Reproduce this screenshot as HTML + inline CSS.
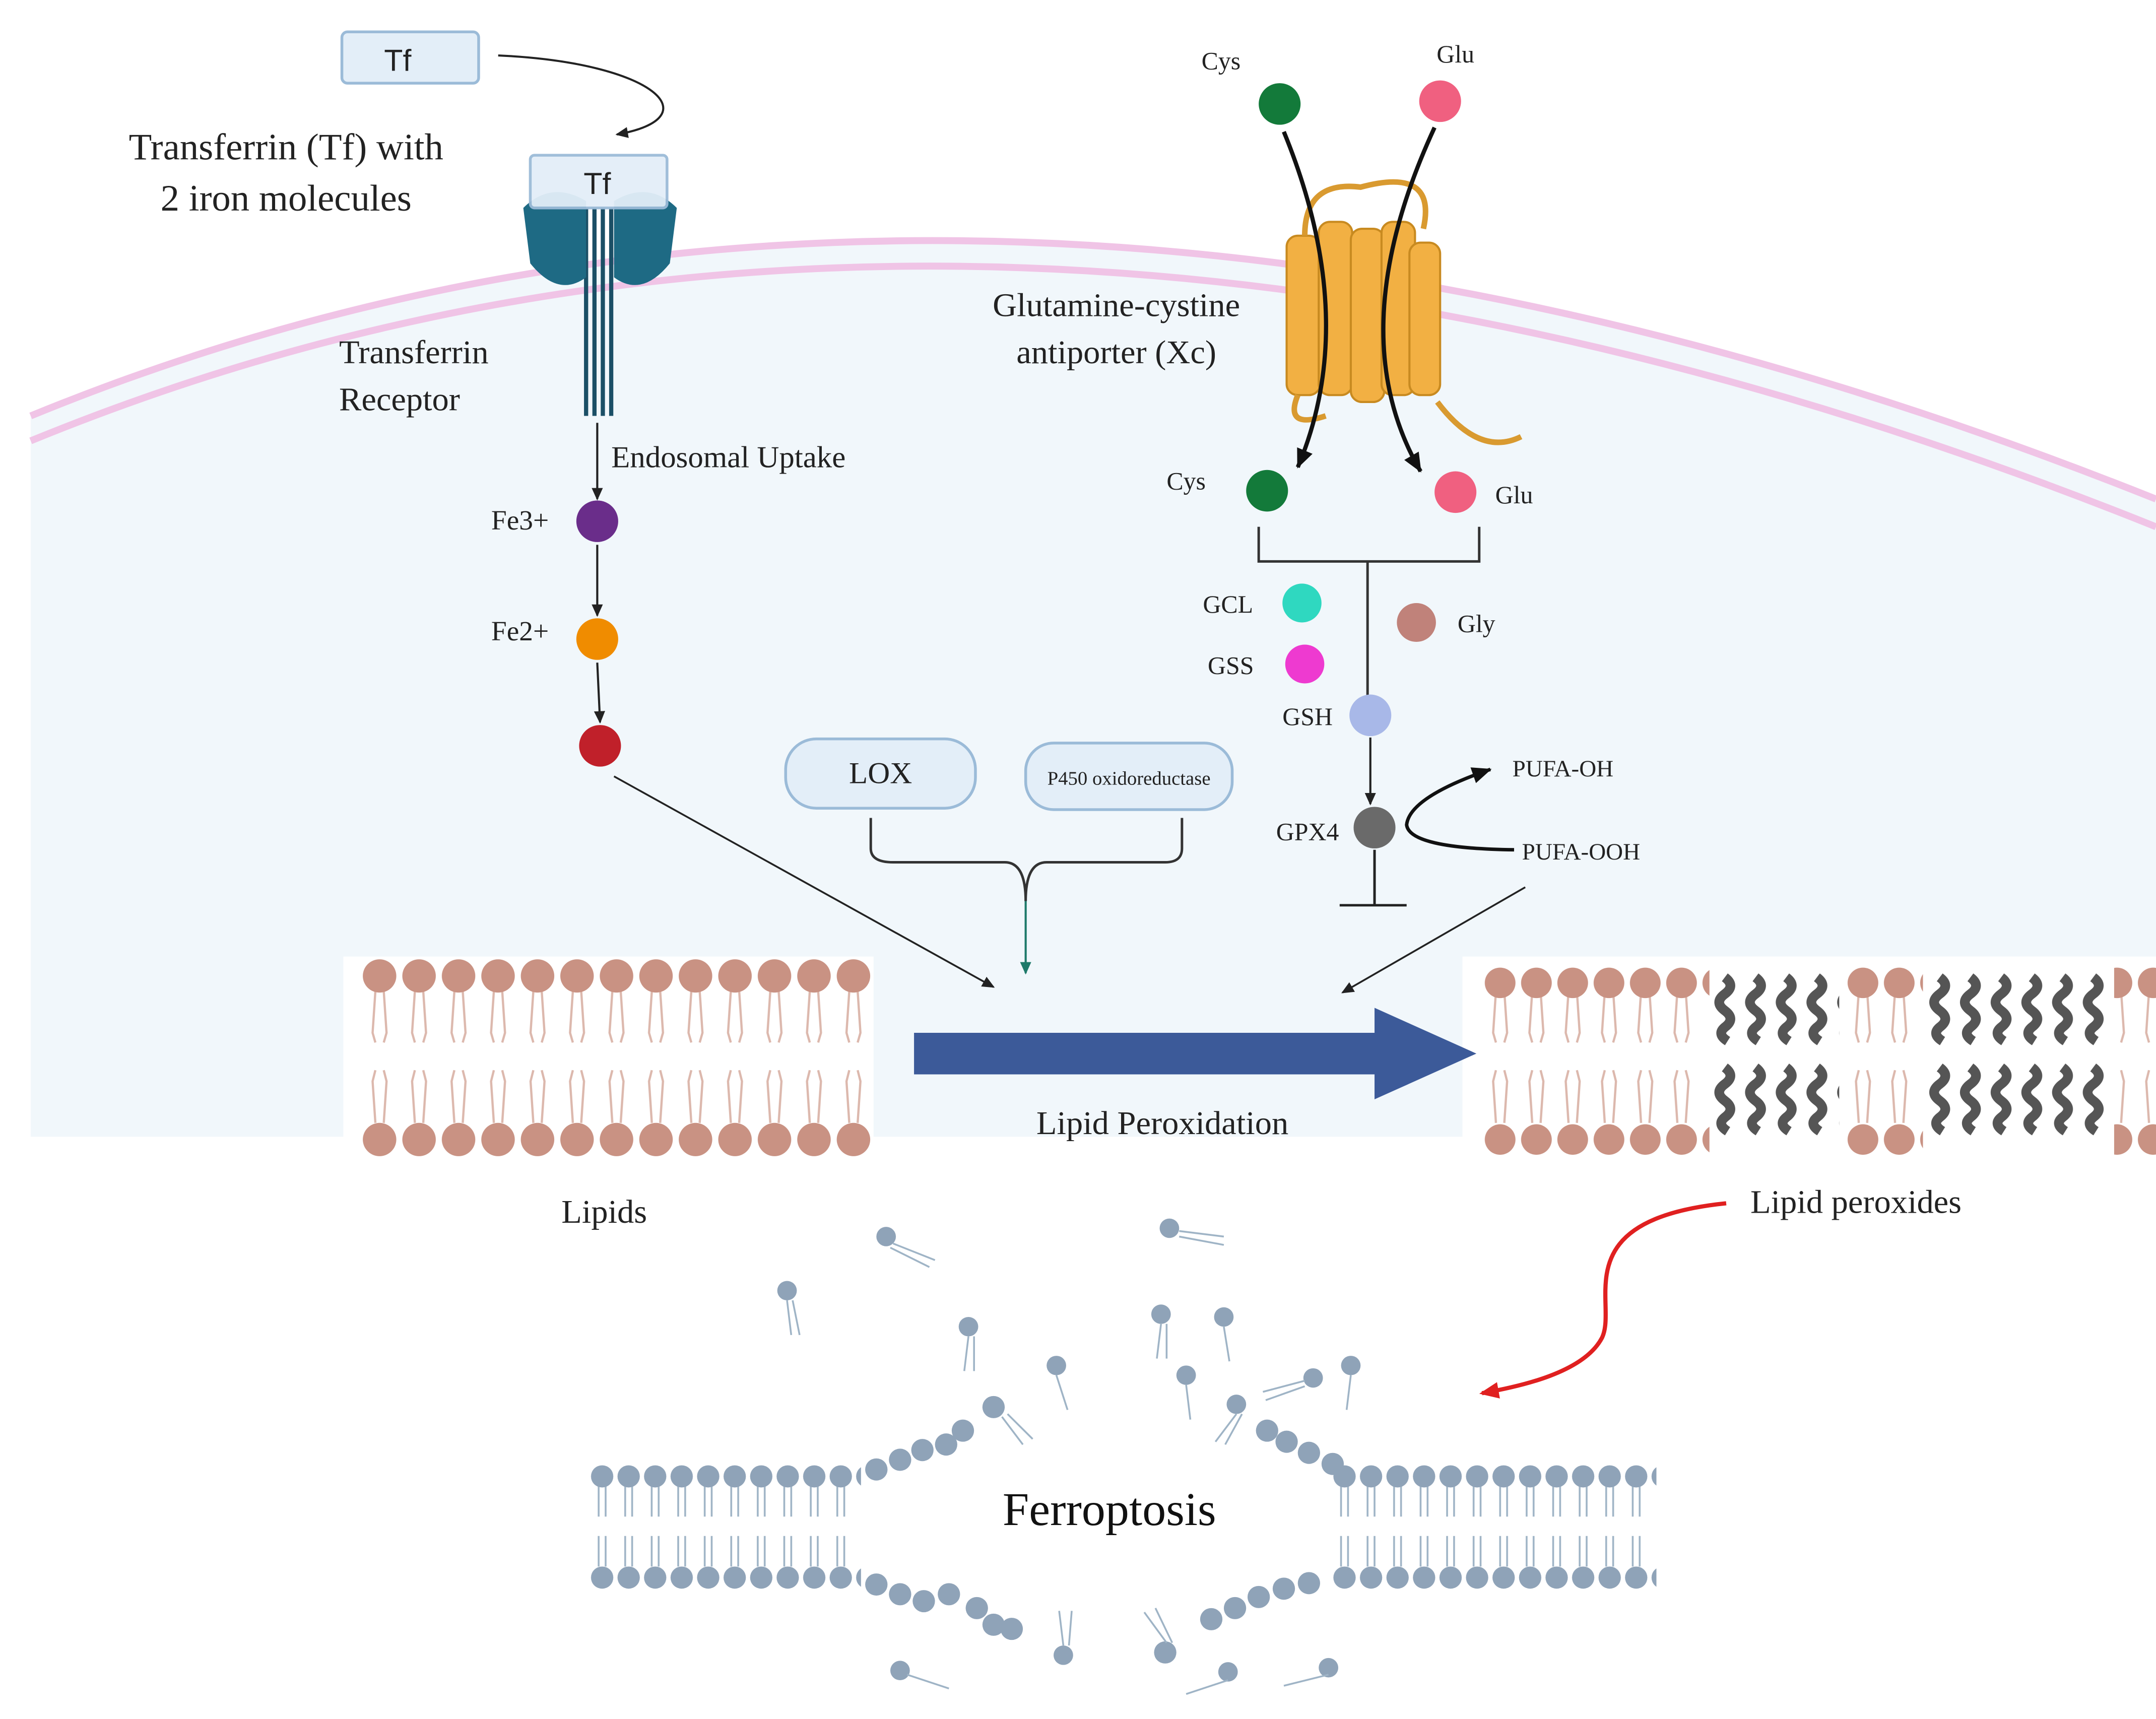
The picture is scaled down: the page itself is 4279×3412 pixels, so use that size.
<!DOCTYPE html>
<html><head><meta charset="utf-8"><style>html,body{margin:0;padding:0;background:#fff}svg{display:block}</style></head>
<body>
<svg width="4279" height="3412" viewBox="0 0 1545 1240" preserveAspectRatio="none" xmlns="http://www.w3.org/2000/svg" font-family="Liberation Serif, serif">
<defs>
<marker id="ah" markerWidth="10" markerHeight="10" refX="8" refY="5" orient="auto" markerUnits="userSpaceOnUse"><path d="M0,1 L9,5 L0,9 Z" fill="#222"/></marker>
<marker id="ahb" markerWidth="16" markerHeight="16" refX="13" refY="8" orient="auto" markerUnits="userSpaceOnUse"><path d="M0,2 L14,8 L0,14 Z" fill="#111"/></marker>
<marker id="aht" markerWidth="10" markerHeight="10" refX="8" refY="5" orient="auto" markerUnits="userSpaceOnUse"><path d="M0,1 L9,5 L0,9 Z" fill="#1e7a6a"/></marker>
<marker id="ahr" markerWidth="16" markerHeight="16" refX="12" refY="8" orient="auto" markerUnits="userSpaceOnUse"><path d="M0,2 L14,8 L0,14 Z" fill="#e02020"/></marker>
<pattern id="lip" x="258" y="0" width="28.3" height="1240" patternUnits="userSpaceOnUse">
<g stroke="#dcb8ad" stroke-width="1.6" fill="none">
<path d="M11,715 L9,745 L11,752"/><path d="M17,715 L19,745 L17,752"/>
<path d="M11,810 L9,780 L11,772"/><path d="M17,810 L19,780 L17,772"/></g>
<circle cx="14" cy="704" r="12" fill="#c99283"/><circle cx="14" cy="822" r="12" fill="#c99283"/>
</pattern>
<pattern id="lip2" x="1062" y="0" width="26" height="1240" patternUnits="userSpaceOnUse">
<g stroke="#dcb8ad" stroke-width="1.6" fill="none">
<path d="M10,715 L8,745 L10,752"/><path d="M16,715 L18,745 L16,752"/>
<path d="M10,810 L8,780 L10,772"/><path d="M16,810 L18,780 L16,772"/></g>
<circle cx="13" cy="709" r="11" fill="#c99283"/><circle cx="13" cy="822" r="11" fill="#c99283"/>
</pattern>
<pattern id="sq" x="1228" y="0" width="22" height="1240" patternUnits="userSpaceOnUse">
<path d="M8,705 q8,6 0,12 q-8,6 0,12 q8,6 0,12 q-6,5 2,10 M8,770 q8,6 0,12 q-8,6 0,12 q8,6 0,12 q-6,5 2,10" stroke="#555" stroke-width="7" fill="none"/>
</pattern>
<pattern id="fm" x="422" y="0" width="19" height="1240" patternUnits="userSpaceOnUse">
<g stroke="#9fb4c6" stroke-width="1.3"><path d="M7,1072 v22 M12,1072 v22 M7,1108 v22 M12,1108 v22"/></g>
<circle cx="9.5" cy="1065" r="8" fill="#8fa3b8"/><circle cx="9.5" cy="1138" r="8" fill="#8fa3b8"/>
</pattern>
</defs>

<!-- cell -->
<path d="M22,300 Q700,20 1545,360 L1545,820 L22,820 Z" fill="#f1f7fb"/>
<path d="M22,300 Q700,20 1545,360" fill="none" stroke="#f0c4e6" stroke-width="5"/>
<path d="M22,318 Q700,38 1545,380" fill="none" stroke="#f0c4e6" stroke-width="5"/>
<rect x="22" y="820" width="1523" height="420" fill="#fff"/>

<!-- Tf -->
<rect x="245" y="23" width="98" height="37" rx="4" fill="#e3eef8" stroke="#9bbbd8" stroke-width="2"/>
<text x="285" y="51" font-family="Liberation Sans, sans-serif" font-size="22" text-anchor="middle" fill="#222">Tf</text>
<path d="M357,40 C470,45 510,85 442,97" fill="none" stroke="#222" stroke-width="1.5" marker-end="url(#ah)"/>
<text x="205" y="115" font-size="27" text-anchor="middle" fill="#222">Transferrin (Tf) with</text>
<text x="205" y="152" font-size="27" text-anchor="middle" fill="#222">2 iron molecules</text>

<!-- receptor -->
<path d="M420,150 L420,300 M426,150 L426,300 M432,150 L432,300 M438,150 L438,300" stroke="#1b4f66" stroke-width="3"/>
<path d="M375,150 Q395,130 420,145 L420,200 Q400,215 380,190 Z M485,150 Q465,130 440,145 L440,200 Q460,215 480,190 Z" fill="#1e6a84"/>
<rect x="380" y="112" width="98" height="38" rx="3" fill="#e3eef8" stroke="#9bbbd8" stroke-width="2" opacity="0.95"/>
<text x="428" y="140" font-family="Liberation Sans, sans-serif" font-size="22" text-anchor="middle" fill="#222">Tf</text>
<text x="243" y="262" font-size="24" fill="#222">Transferrin</text>
<text x="243" y="296" font-size="24" fill="#222">Receptor</text>
<line x1="428" y1="305" x2="428" y2="360" stroke="#222" stroke-width="1.5" marker-end="url(#ah)"/>
<text x="438" y="337" font-size="22" fill="#222">Endosomal Uptake</text>
<text x="352" y="382" font-size="20" fill="#222">Fe3+</text>
<circle cx="428" cy="376" r="15" fill="#6a2d8a"/>
<line x1="428" y1="393" x2="428" y2="444" stroke="#222" stroke-width="1.5" marker-end="url(#ah)"/>
<text x="352" y="462" font-size="20" fill="#222">Fe2+</text>
<circle cx="428" cy="461" r="15" fill="#f08c00"/>
<line x1="428" y1="478" x2="430" y2="521" stroke="#222" stroke-width="1.5" marker-end="url(#ah)"/>
<circle cx="430" cy="538" r="15" fill="#c0202a"/>
<line x1="440" y1="560" x2="712" y2="712" stroke="#222" stroke-width="1.3" marker-end="url(#ah)"/>

<!-- LOX / P450 -->
<rect x="563" y="533" width="136" height="50" rx="22" fill="#e3eef8" stroke="#9bbbd8" stroke-width="2"/>
<text x="631" y="565" font-size="22" text-anchor="middle" fill="#222">LOX</text>
<rect x="735" y="536" width="148" height="48" rx="20" fill="#e3eef8" stroke="#9bbbd8" stroke-width="2"/>
<text x="809" y="566" font-size="14" text-anchor="middle" fill="#222">P450 oxidoreductase</text>
<path d="M624,590 L624,612 Q624,622 640,622 L720,622 Q735,622 735,650 Q735,622 750,622 L835,622 Q847,622 847,612 L847,590" fill="none" stroke="#333" stroke-width="1.8"/>
<line x1="735" y1="650" x2="735" y2="702" stroke="#1e7a6a" stroke-width="1.5" marker-end="url(#aht)"/>

<!-- antiporter -->
<text x="875" y="50" font-size="18" text-anchor="middle" fill="#222">Cys</text>
<circle cx="917" cy="75" r="15" fill="#137a3a"/>
<text x="1043" y="45" font-size="18" text-anchor="middle" fill="#222">Glu</text>
<circle cx="1032" cy="73" r="15" fill="#f06080"/>
<g fill="#f2b043" stroke="#c88a20" stroke-width="1.5">
<rect x="922" y="170" width="24" height="115" rx="8"/><rect x="945" y="160" width="24" height="125" rx="8"/>
<rect x="968" y="165" width="24" height="125" rx="8"/><rect x="990" y="160" width="24" height="125" rx="8"/>
<rect x="1010" y="175" width="22" height="110" rx="8"/>
</g>
<path d="M935,170 Q935,130 975,135 Q1030,120 1020,165 M1030,290 Q1060,330 1090,315 M930,285 Q920,310 950,300" fill="none" stroke="#d99a30" stroke-width="4"/>
<path d="M920,95 Q975,230 930,337" fill="none" stroke="#111" stroke-width="3" marker-end="url(#ahb)"/>
<path d="M1028,92 Q960,240 1018,340" fill="none" stroke="#111" stroke-width="3" marker-end="url(#ahb)"/>
<text x="800" y="228" font-size="24" text-anchor="middle" fill="#222">Glutamine-cystine</text>
<text x="800" y="262" font-size="24" text-anchor="middle" fill="#222">antiporter (Xc)</text>
<text x="850" y="353" font-size="18" text-anchor="middle" fill="#222">Cys</text>
<circle cx="908" cy="354" r="15" fill="#137a3a"/>
<circle cx="1043" cy="355" r="15" fill="#f06080"/>
<text x="1085" y="363" font-size="18" text-anchor="middle" fill="#222">Glu</text>
<path d="M902,380 L902,405 L1060,405 L1060,380 M980,405 L980,503" fill="none" stroke="#333" stroke-width="1.8"/>
<text x="880" y="442" font-size="18" text-anchor="middle" fill="#222">GCL</text>
<circle cx="933" cy="435" r="14" fill="#2fd8c0"/>
<text x="882" y="486" font-size="18" text-anchor="middle" fill="#222">GSS</text>
<circle cx="935" cy="479" r="14" fill="#ee3ad0"/>
<circle cx="1015" cy="449" r="14" fill="#c0827a"/>
<text x="1058" y="456" font-size="18" text-anchor="middle" fill="#222">Gly</text>
<text x="937" y="523" font-size="18" text-anchor="middle" fill="#222">GSH</text>
<circle cx="982" cy="516" r="15" fill="#a8b8e8"/>
<line x1="982" y1="532" x2="982" y2="580" stroke="#222" stroke-width="1.5" marker-end="url(#ah)"/>
<text x="937" y="606" font-size="18" text-anchor="middle" fill="#222">GPX4</text>
<circle cx="985" cy="597" r="15" fill="#6a6a6a"/>
<path d="M985,613 L985,653 M960,653 L1008,653" stroke="#222" stroke-width="1.8"/>
<text x="1120" y="560" font-size="17" text-anchor="middle" fill="#222">PUFA-OH</text>
<text x="1133" y="620" font-size="17" text-anchor="middle" fill="#222">PUFA-OOH</text>
<path d="M1085,613 Q1010,612 1008,595 Q1010,575 1068,555" fill="none" stroke="#111" stroke-width="2.5" marker-end="url(#ahb)"/>
<line x1="1093" y1="640" x2="962" y2="716" stroke="#222" stroke-width="1.3" marker-end="url(#ah)"/>

<!-- bilayers -->
<rect x="246" y="690" width="380" height="146" fill="#fff"/>
<rect x="258" y="690" width="368" height="146" fill="url(#lip)"/>
<rect x="1048" y="690" width="497" height="146" fill="#fff"/>
<rect x="1062" y="690" width="483" height="146" fill="url(#lip2)"/>
<rect x="1225" y="690" width="96" height="146" fill="#fff"/>
<rect x="1228" y="695" width="90" height="140" fill="url(#sq)"/>
<rect x="1378" y="690" width="137" height="146" fill="#fff"/>
<rect x="1380" y="695" width="132" height="140" fill="url(#sq)"/>

<path d="M655,745 L985,745 L985,727 L1058,760 L985,793 L985,775 L655,775 Z" fill="#3c5a99"/>
<text x="833" y="818" font-size="24" text-anchor="middle" fill="#222">Lipid Peroxidation</text>
<text x="433" y="882" font-size="24" text-anchor="middle" fill="#222">Lipids</text>
<text x="1330" y="875" font-size="24" text-anchor="middle" fill="#222">Lipid peroxides</text>
<path d="M1237,868 C1120,880 1160,940 1148,965 C1135,990 1090,1000 1062,1005" fill="none" stroke="#e02020" stroke-width="3" marker-end="url(#ahr)"/>

<!-- ferroptosis -->
<rect x="422" y="1050" width="195" height="100" fill="url(#fm)"/>
<rect x="955" y="1050" width="232" height="100" fill="url(#fm)"/>
<g fill="#8fa3b8">
<circle cx="628" cy="1060" r="8"/><circle cx="645" cy="1053" r="8"/><circle cx="661" cy="1046" r="8"/><circle cx="678" cy="1042" r="8"/><circle cx="690" cy="1032" r="8"/><circle cx="712" cy="1015" r="8"/>
<circle cx="628" cy="1143" r="8"/><circle cx="645" cy="1150" r="8"/><circle cx="662" cy="1155" r="8"/><circle cx="680" cy="1150" r="8"/><circle cx="700" cy="1160" r="8"/><circle cx="712" cy="1172" r="8"/><circle cx="725" cy="1175" r="8"/>
<circle cx="908" cy="1032" r="8"/><circle cx="922" cy="1040" r="8"/><circle cx="938" cy="1048" r="8"/><circle cx="955" cy="1056" r="8"/>
<circle cx="835" cy="1192" r="8"/><circle cx="868" cy="1168" r="8"/><circle cx="885" cy="1160" r="8"/><circle cx="902" cy="1152" r="8"/><circle cx="920" cy="1146" r="8"/><circle cx="938" cy="1142" r="8"/>
<circle cx="635" cy="892" r="7"/><circle cx="838" cy="886" r="7"/><circle cx="564" cy="931" r="7"/><circle cx="694" cy="957" r="7"/><circle cx="832" cy="948" r="7"/><circle cx="877" cy="950" r="7"/><circle cx="757" cy="985" r="7"/><circle cx="850" cy="992" r="7"/><circle cx="941" cy="994" r="7"/><circle cx="968" cy="985" r="7"/><circle cx="886" cy="1013" r="7"/>
<circle cx="645" cy="1205" r="7"/><circle cx="762" cy="1194" r="7"/><circle cx="880" cy="1206" r="7"/><circle cx="952" cy="1203" r="7"/>
</g>
<g stroke="#9fb4c6" stroke-width="1.3" fill="none">
<path d="M640,897 l30,12 M638,900 l28,14 M564,938 l3,25 M568,938 l5,25 M694,964 l-3,25 M698,964 l0,25 M845,888 l32,4 M845,892 l32,6 M832,955 l-3,25 M836,955 l0,25 M877,957 l4,25 M757,992 l8,25 M850,999 l3,25 M935,996 l-30,8 M935,1000 l-28,10 M968,992 l-3,25 M886,1020 l-15,20 M890,1020 l-12,22 M650,1208 l30,10 M762,1187 l-3,-25 M766,1187 l2,-25 M880,1212 l-30,10 M952,1208 l-32,8 M718,1022 l15,20 M722,1020 l18,18 M840,1185 l-12,-25 M836,1185 l-16,-22"/>
</g>
<text x="795" y="1100" font-size="34" text-anchor="middle" fill="#111">Ferroptosis</text>
</svg>
</body></html>
